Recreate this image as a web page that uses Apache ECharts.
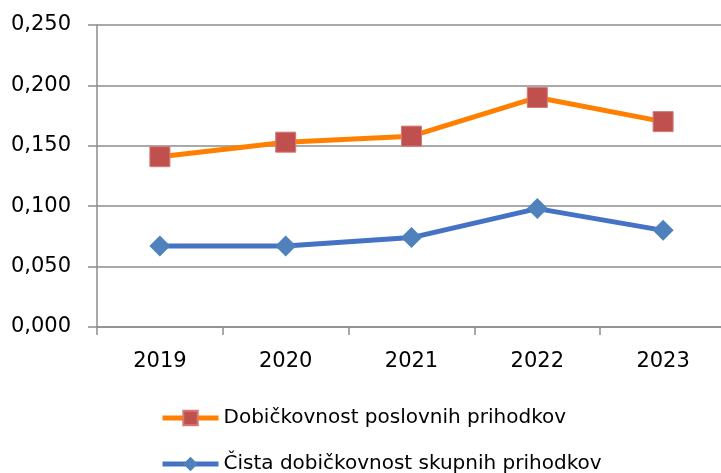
<!DOCTYPE html>
<html>
<head>
<meta charset="utf-8">
<script src="https://cdn.jsdelivr.net/npm/echarts@6/dist/echarts.min.js"></script>
<style>
  html, body { margin: 0; padding: 0; background: #fff; }
  #chart { width: 721px; height: 473px; }
</style>
</head>
<body>
<div id="chart"></div>
<script>
// podatki
var years = ['2019', '2020', '2021', '2022', '2023'];
var poslovni = [0.141, 0.153, 0.158, 0.190, 0.170];
var cista = [0.067, 0.067, 0.074, 0.098, 0.080];
var nameP = 'Dobičkovnost poslovnih prihodkov';
var nameC = 'Čista dobičkovnost skupnih prihodkov';

var gridColor = '#8c8c8c';
var font = 'DejaVu Sans';

var myChart = echarts.init(document.getElementById('chart'));
var option = {
    animation: false,
    backgroundColor: '#fff',
    grid: { left: 97, top: 25, width: 629, height: 302, outerBoundsMode: 'none' },
    legend: [
        {
            data: [nameP], left: 160, top: 408, padding: 0,
            itemWidth: 56, itemHeight: 18,
            lineStyle: { width: 5 },
            textStyle: { fontFamily: font, fontSize: 20, color: '#000', lineHeight: 18 }
        },
        {
            data: [nameC], left: 160, top: 454, padding: 0,
            itemWidth: 56, itemHeight: 18,
            lineStyle: { width: 5 },
            textStyle: { fontFamily: font, fontSize: 20, color: '#000', lineHeight: 18 }
        }
    ],
    xAxis: {
        type: 'category',
        data: years,
        boundaryGap: true,
        axisLine: { lineStyle: { color: gridColor, width: 1.5 } },
        axisTick: { show: true, length: 8, lineStyle: { color: gridColor, width: 1.5 } },
        axisLabel: { fontFamily: font, fontSize: 21, color: '#000', margin: 24 }
    },
    yAxis: {
        type: 'value',
        min: 0, max: 0.25, interval: 0.05,
        axisLine: { show: true, lineStyle: { color: gridColor, width: 1.5 } },
        axisTick: { show: true, length: 9, lineStyle: { color: gridColor, width: 1.5 } },
        splitLine: { lineStyle: { color: gridColor, width: 1.5 } },
        axisLabel: {
            fontFamily: font, fontSize: 21, color: '#000', margin: 26,
            formatter: function (v) { return v.toFixed(3).replace('.', ','); }
        }
    },
    series: [
        {
            name: nameP, type: 'line', data: poslovni,
            symbol: 'rect', symbolSize: 20,
            lineStyle: { color: '#FF8000', width: 5 },
            itemStyle: { color: '#C0504D', borderColor: '#D27A77', borderWidth: 1 }
        },
        {
            name: nameC, type: 'line', data: cista,
            symbol: 'diamond', symbolSize: 21,
            lineStyle: { color: '#4472C4', width: 5 },
            itemStyle: { color: '#4F81BD', borderColor: '#4F81BD', borderWidth: 0 }
        }
    ]
};
myChart.setOption(option);
</script>
</body>
</html>
